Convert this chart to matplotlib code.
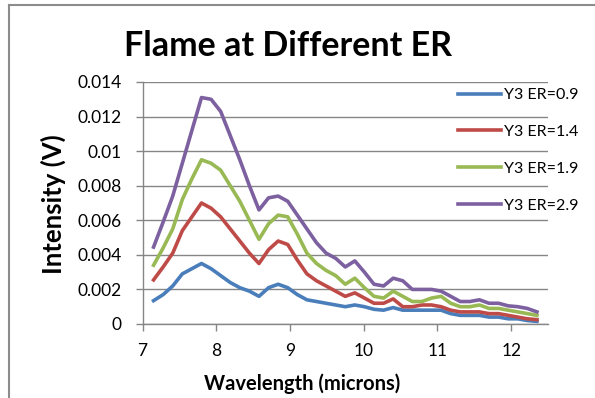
#!/usr/bin/env python3
"""Flame emission spectra at different equivalence ratios -> out.png"""

import matplotlib
matplotlib.use("Agg")
import matplotlib.pyplot as plt
from matplotlib.lines import Line2D

# wavelength grid (microns), 41 samples
wavelength = [7.15 + 0.13 * i for i in range(41)]

er_09 = [0.00135, 0.0017, 0.0022, 0.0029, 0.0032, 0.0035, 0.0032, 0.0028, 0.0024, 0.0021,
         0.0019, 0.0016, 0.0021, 0.0023, 0.0021, 0.0017, 0.0014, 0.0013, 0.0012, 0.0011,
         0.0010, 0.0011, 0.0010, 0.00085, 0.0008, 0.00095, 0.0008, 0.0008, 0.0008, 0.0008,
         0.0008, 0.0006, 0.0005, 0.0005, 0.0005, 0.0004, 0.0004, 0.0003, 0.0003, 0.0002,
         0.00015]
er_14 = [0.00255, 0.0033, 0.0041, 0.0054, 0.0062, 0.0070, 0.0067, 0.0062, 0.0055, 0.0048,
         0.0041, 0.0035, 0.0043, 0.0048, 0.0046, 0.0037, 0.0029, 0.0025, 0.0022, 0.0019,
         0.0016, 0.0018, 0.0015, 0.0012, 0.0012, 0.00145, 0.0010, 0.0010, 0.0011, 0.0011,
         0.0010, 0.0008, 0.0007, 0.0007, 0.0007, 0.0006, 0.0006, 0.0005, 0.0004, 0.0003,
         0.00025]
er_19 = [0.0034, 0.0044, 0.0055, 0.0072, 0.0084, 0.0095, 0.0093, 0.0089, 0.0080, 0.0071,
         0.0060, 0.0049, 0.0058, 0.0063, 0.0062, 0.0052, 0.0041, 0.0035, 0.0031, 0.0028,
         0.0023, 0.00265, 0.0021, 0.0016, 0.0015, 0.0019, 0.0016, 0.0013, 0.0013, 0.0015,
         0.0016, 0.0012, 0.0010, 0.0010, 0.0011, 0.0009, 0.0009, 0.0008, 0.0007, 0.0006,
         0.0005]
er_29 = [0.00445, 0.0059, 0.0074, 0.0093, 0.0112, 0.0131, 0.0130, 0.0123, 0.0109, 0.0095,
         0.0080, 0.0066, 0.0073, 0.0074, 0.0071, 0.0063, 0.0055, 0.0047, 0.0041, 0.0038,
         0.0033, 0.00365, 0.0030, 0.0023, 0.0022, 0.00265, 0.0025, 0.0020, 0.0020, 0.0020,
         0.0019, 0.0016, 0.0013, 0.0013, 0.0014, 0.0012, 0.0012, 0.00105, 0.0010, 0.0009,
         0.0007]

series = [er_09, er_14, er_19, er_29]
labels = ["Y3 ER=0.9", "Y3 ER=1.4", "Y3 ER=1.9", "Y3 ER=2.9"]
colors = ["#4a7ebb", "#be4b48", "#98b954", "#7d60a0"]

x_ticks = [7, 8, 9, 10, 11, 12]
y_ticks = [0, 0.002, 0.004, 0.006, 0.008, 0.01, 0.012, 0.014]
y_ticklabels = ["0", "0.002", "0.004", "0.006", "0.008", "0.01", "0.012", "0.014"]

GRID = "#868686"
FONT = "Lato"

plt.rcParams["font.family"] = [FONT, "DejaVu Sans"]

W, H = 595, 398
fig = plt.figure(figsize=(W / 100, H / 100), dpi=100)
fig.patch.set_facecolor("white")

# plot area in pixel terms
left, right, top, bottom = 142.5, 548, 82, 324
ax = fig.add_axes([left / W, 1 - bottom / H, (right - left) / W, (bottom - top) / H])

for ys, c in zip(series, colors):
    ax.plot(wavelength, ys, color=c, lw=2.6, solid_joinstyle="round")

ax.set_xlim(7, 12.5)
ax.set_ylim(0, 0.014)
ax.set_xticks(x_ticks)
ax.set_yticks(y_ticks)
ax.set_yticklabels(y_ticklabels)
ax.grid(axis="y", color=GRID, lw=1.0)
ax.set_axisbelow(True)
for s in ("top", "right"):
    ax.spines[s].set_visible(False)
for s in ("left", "bottom"):
    ax.spines[s].set_color(GRID)
    ax.spines[s].set_linewidth(1.0)
ax.tick_params(axis="both", direction="out", length=5, width=1.0, color=GRID,
               labelsize=12.5, labelcolor="black")
ax.tick_params(axis="y", pad=10)
ax.tick_params(axis="x", pad=9)

fig.text(288 / W, 1 - 46 / H, "Flame at Different ER", ha="center", va="center",
         fontsize=24.5, fontweight="bold")
fig.text(302 / W, 1 - 384 / H, "Wavelength (microns)", ha="center", va="center",
         fontsize=14.5, fontweight="bold")
fig.text(53 / W, 1 - 204 / H, "Intensity (V)", ha="center", va="center",
         rotation=90, fontsize=18.5, fontweight="bold")

handles = [Line2D([], [], color=c, lw=2.6) for c in colors]
fig.legend(handles, labels, loc="upper left", bbox_to_anchor=(458 / W, 1 - 88 / H),
           frameon=False, fontsize=11.5, handlelength=2.7, handletextpad=0.2,
           labelspacing=1.42, borderpad=0, borderaxespad=0)

# chart border (right and bottom edges fall outside the canvas)
fig.add_artist(Line2D([9 / W, 9 / W], [0, 1 - 5 / H], color="#8c8c8c", lw=1.5))
fig.add_artist(Line2D([9 / W, 1], [1 - 5 / H, 1 - 5 / H], color="#8c8c8c", lw=1.5))

fig.savefig("out.png", dpi=100, facecolor="white")
